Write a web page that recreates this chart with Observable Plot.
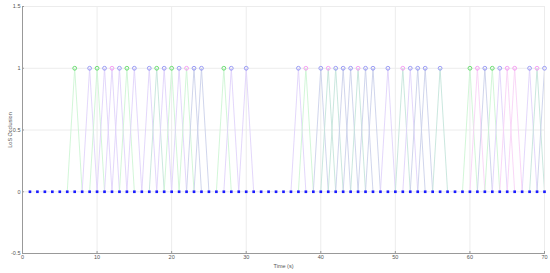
<!DOCTYPE html>
<html><head><meta charset="utf-8">
<script src="https://cdn.jsdelivr.net/npm/d3@7"></script>
<script src="https://cdn.jsdelivr.net/npm/@observablehq/plot@0.6"></script>
<style>body{margin:0;background:#fff}</style>
</head><body><div id="chart"></div>
<script>
// Time stamps (s) with occlusion value 0 (baseline samples)
const baseTimes = [1,2,3,4,5,6,7,8,9,10,11,12,13,14,15,16,17,18,19,20,21,22,23,24,25,26,27,28,29,30,31,32,33,34,35,36,37,38,39,40,41,42,43,44,45,46,47,48,49,50,51,52,53,54,55,56,57,58,59,60,61,62,63,64,65,66,67,68,69,70];
const baseValues = baseTimes.map(() => 0);
// Time stamps (s) where LoS occlusion = 1
const peakTimes = [7,9,10,11,12,13,14,15,17,18,19,20,21,22,23,24,27,28,30,37,38,40,41,42,43,44,45,46,47,49,51,52,53,54,56,60,61,62,63,64,65,66,68,69,70];
const peakValue = 1;
// marker series per peak
const peakMarker = ["g","b","g","b","m","b","g","b","b","g","b","g","b","m","b","b","g","b","b","b","m","b","m","b","b","b","m","b","b","b","m","b","b","b","b","g","m","b","g","b","m","m","b","m","b"];
// line series per peak
const peakLine = ["g","p","g","p","p","p","g","p","p","t","p","g","p","g","s","s","g","p","p","p","g","s","t","t","s","s","t","s","s","p","t","p","s","s","t","g","m","s","g","p","m","m","p","t","s"];
const xTicks = [0,10,20,30,40,50,60,70];
const yTicks = [-0.5,0,0.5,1,1.5];

const markerColor = {g:"#4cd655", b:"#8486f3", m:"#f28cf0"};
const lineColor = {g:"#cdf5d4", p:"#e0d2fb", s:"#cbd0ea", t:"#c4e4da", m:"#f8d2f6"};

const peaks = peakTimes.map((t,i)=>({t, v: peakValue, mk: peakMarker[i], ln: peakLine[i], id:i}));
const segs = peaks.flatMap(p => [
  {x:p.t-1, y:0, id:p.id, ln:p.ln},
  {x:p.t, y:p.v, id:p.id, ln:p.ln},
  {x:p.t+1, y:0, id:p.id, ln:p.ln}
]);
const base = baseTimes.map((t,i)=>({t, v: baseValues[i]}));

const chart = Plot.plot({
  width: 550, height: 273,
  marginLeft: 22, marginRight: 6, marginTop: 6, marginBottom: 20,
  style: {fontFamily: "Liberation Sans, Arial, sans-serif", fontSize: "5.5px", color: "#555", background: "#fff"},
  x: {domain: [0,70], ticks: xTicks},
  y: {domain: [-0.5,1.5], ticks: yTicks},
  marks: [
    Plot.gridX(xTicks, {stroke: "#ececec", strokeOpacity: 1}),
    Plot.gridY(yTicks, {stroke: "#ececec", strokeOpacity: 1}),
    Plot.line(segs, {x:"x", y:"y", z:"id", stroke: d => lineColor[d.ln], strokeWidth: 0.9, clip: true}),
    Plot.dot(base, {x:"t", y:"v", symbol:"square", r: 1.5, fill:"#1a1aff", stroke:"none"}),
    Plot.dot(peaks, {x:"t", y:"v", r: 1.9, fill:"none", stroke: d => markerColor[d.mk], strokeWidth: 0.8}),
    Plot.axisX(xTicks, {tickSize: -2, tickPadding: 4, tickFormat: d => String(d), label: "Time (s)", labelAnchor: "center", labelArrow: "none", labelOffset: 14, stroke:"#999"}),
    Plot.axisY(yTicks, {tickSize: -2, tickPadding: 4, tickFormat: d => String(d), label: "LoS Occlusion", labelAnchor: "center", labelArrow: "none", labelOffset: 14, stroke:"#999"}),
    Plot.frame({anchor: "left", stroke: "#999"}),
    Plot.frame({anchor: "bottom", stroke: "#999"})
  ]
});
document.getElementById("chart").appendChild(chart);
</script>
</body></html>
